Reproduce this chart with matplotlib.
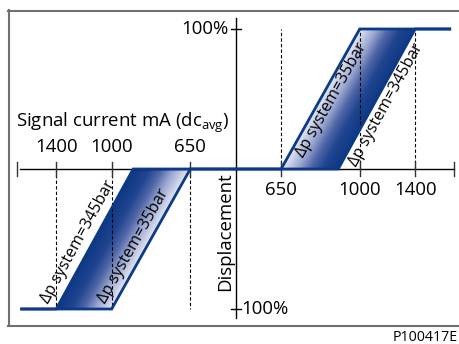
import numpy as np
import matplotlib
matplotlib.use("Agg")
import matplotlib.pyplot as plt
from matplotlib.colors import LinearSegmentedColormap
from matplotlib.patches import Polygon
from matplotlib.lines import Line2D

plt.rcParams['font.family'] = ['Open Sans', 'DejaVu Sans']

# signal currents (mA) and their schematic position on the axis
current_labels = [650, 1000, 1400]
current_pos = [0.253, 0.691, 1.0]
axis_end = 1.2

# displacement characteristics (position, displacement %)
curve35_x = [-1.2, -0.691, -0.253, 0.253, 0.691, 1.2]
curve35_y = [-100, -100, 0, 0, 100, 100]
curve345_x = [-1.2, -1.0, -0.571, 0.571, 1.0, 1.2]
curve345_y = [-100, -100, 0, 0, 100, 100]

blue = '#0b3a87'
cmap = LinearSegmentedColormap.from_list(
    'valve', [(0, '#e6e9f4'), (0.3, '#98a5cf'), (0.5, '#5268a8'),
              (0.72, '#214591'), (1, '#0f3883')])

fig = plt.figure(figsize=(4.59, 3.44), dpi=100)
ax = fig.add_axes([0, 0, 1, 1])
ax.set_xlim(-235.7 / 179.5, (459 - 235.7) / 179.5)
ax.set_ylim(-175 / 1.4, 169 / 1.4)
ax.axis('off')

# frame round the drawing
frame = dict(color='#707070', lw=1.5, transform=fig.transFigure)
fig.add_artist(Line2D([8 / 459, 459 / 459], [1 - 10.5 / 344] * 2, **frame))
fig.add_artist(Line2D([8.5 / 459] * 2, [1 - 10 / 344, 1 - 326 / 344], **frame))
fig.add_artist(Line2D([8 / 459, 1], [1 - 325.7 / 344] * 2, **frame))

# gradient-filled bands between the two characteristics
for sign in (1, -1):
    x35 = np.array(curve35_x[3:5]) * sign
    x345 = np.array(curve345_x[3:5]) * sign
    y = np.array([0, 100]) * sign
    verts = [(x35[0], y[0]), (x345[0], y[0]), (x345[1], y[1]), (x35[1], y[1])]
    poly = Polygon(verts, closed=True, fc='none', ec='none')
    ax.add_patch(poly)
    xs = np.linspace(min(x35.min(), x345.min()), max(x35.max(), x345.max()), 300)
    ys = np.linspace(y.min(), y.max(), 200)
    X, Y = np.meshgrid(xs, ys)
    frac = np.abs(Y) / 100
    a = np.abs(x35[0]) + frac * (np.abs(x35[1]) - np.abs(x35[0]))
    b = np.abs(x345[0]) + frac * (np.abs(x345[1]) - np.abs(x345[0]))
    t = np.clip((np.abs(X) - a) / (b - a), 0, 1)
    im = ax.imshow(t, extent=[xs[0], xs[-1], ys[0], ys[-1]], origin='lower',
                   cmap=cmap, vmin=0, vmax=1, aspect='auto', interpolation='bilinear')
    im.set_clip_path(poly)

# dashed guide lines
for p in current_pos:
    ax.plot([p, p], [0, 100], ls=(0, (3, 2)), color='k', lw=0.8)
    ax.plot([-p, -p], [0, -100], ls=(0, (3, 2)), color='k', lw=0.8)

# axes
ax.plot([-axis_end - 0.002, axis_end + 0.016], [0, 0], color='k', lw=1)
for p in current_pos + [axis_end + 0.016]:
    for s in (1, -1):
        ax.plot([s * p, s * p], [-5, 5], color='#333333', lw=1)
ax.plot([0, 0], [-106.4, 107.9], color='k', lw=1)
for v in (100, -100):
    ax.plot([-0.028, 0.028], [v, v], color='k', lw=1)

# characteristics
ax.plot(curve35_x, curve35_y, color=blue, lw=2, solid_capstyle='butt', solid_joinstyle='miter')
ax.plot(curve345_x, curve345_y, color=blue, lw=2, solid_capstyle='butt', solid_joinstyle='miter')

# text
fs = 13.4
ax.text(-0.04, 100, '100%', ha='right', va='center', fontsize=fs)
ax.text(0.03, -100, '100%', ha='left', va='center', fontsize=fs)
ax.text(-0.06, -45, 'Displacement', rotation=90, ha='center', va='center', fontsize=fs)
ax.text(-1.225, 30.5, 'Signal current mA (dc$_{\\mathregular{avg}}$)', ha='left',
        va='baseline', fontsize=fs)
for lab, p in zip(current_labels, current_pos):
    ax.text(-p, 12.5, str(lab), ha='center', va='baseline', fontsize=fs)
    ax.text(p, -18.8, str(lab), ha='center', va='baseline', fontsize=fs)


def slant_label(xs, ys, frac, dx, text):
    p1 = ax.transData.transform((xs[0], ys[0]))
    p2 = ax.transData.transform((xs[1], ys[1]))
    ang = np.degrees(np.arctan2(p2[1] - p1[1], p2[0] - p1[0]))
    if ang > 90:
        ang -= 180
    if ang < -90:
        ang += 180
    x = xs[0] + frac * (xs[1] - xs[0])
    y = ys[0] + frac * (ys[1] - ys[0])
    ax.annotate(text, (x, y), xytext=(dx, 0), textcoords='offset pixels',
                rotation=ang, ha='center', va='center', fontsize=11.5,
                rotation_mode='anchor')


slant_label(curve35_x[3:5], curve35_y[3:5], 0.49, 12, '\u0394p system=35bar')
slant_label(curve345_x[3:5], curve345_y[3:5], 0.46, 13, '\u0394p system=345bar')
slant_label(curve35_x[1:3], curve35_y[1:3], 0.45, -14, '\u0394p system=35bar')
slant_label(curve345_x[1:3], curve345_y[1:3], 0.48, -15, '\u0394p system=345bar')

fig.text(457.5 / 459, 1 - 341 / 344, 'P100417E', ha='right', va='baseline', fontsize=10.3)

fig.savefig('out.png', dpi=100)
